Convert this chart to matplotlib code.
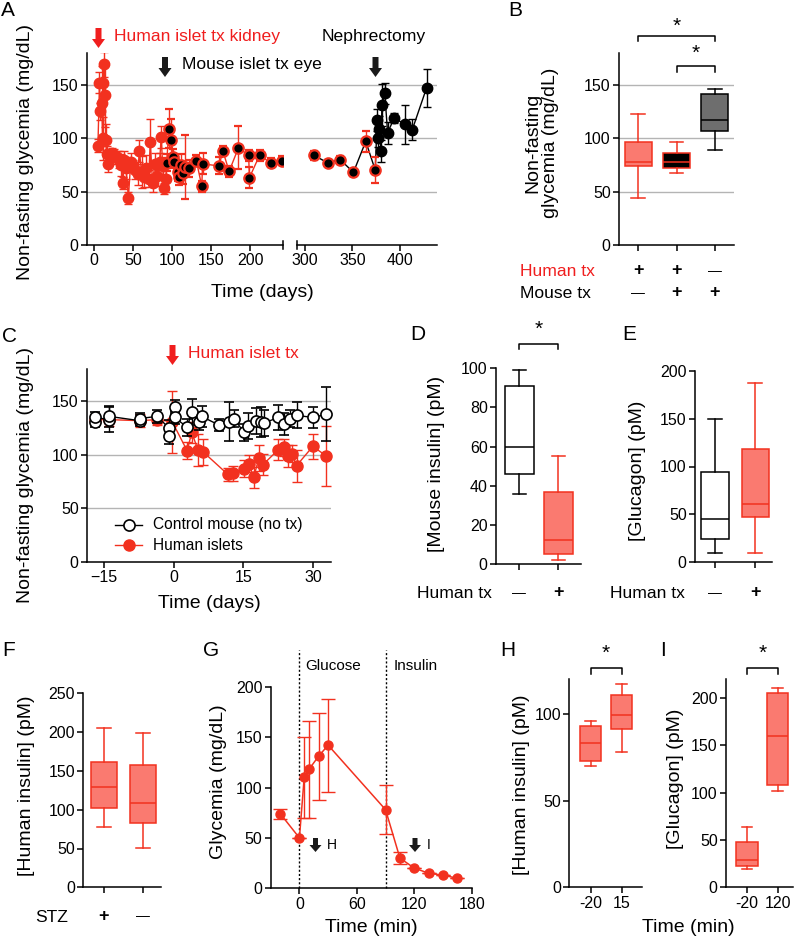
import matplotlib
matplotlib.use('Agg')
import matplotlib.pyplot as plt
from matplotlib.patches import Polygon
from matplotlib.lines import Line2D

plt.rcParams['font.family'] = ['Liberation Sans', 'DejaVu Sans']
plt.rcParams['axes.linewidth'] = 1.1

# ---------------- DATA ----------------
# Panel A: human islets only (kidney)
A_hum_days = [5, 7, 8, 10, 11, 12, 13, 14, 15, 16, 18, 20, 23, 26, 29, 32, 35, 37, 39, 41, 44, 47, 50, 53,
              56, 58, 61, 64, 67, 70, 72, 75, 78, 81, 84, 86, 88, 90, 92]
A_hum_vals = [93, 152, 125, 133, 100, 152, 169, 140, 98, 85, 76, 84, 86, 84, 82, 80, 75, 58, 80, 72, 44, 78, 74, 70,
              66, 88, 68, 64, 72, 62, 96, 58, 76, 65, 78, 101, 74, 53, 62]
A_hum_err = [6, 10, 8, 35, 20, 15, 12, 30, 15, 8, 8, 5, 5, 6, 6, 8, 10, 6, 8, 10, 6, 8, 6, 8,
             10, 10, 15, 10, 12, 8, 22, 8, 10, 10, 8, 10, 8, 5, 12]
# Panel A: human + mouse islets
A_both_days = [93, 96, 99, 101, 103, 107, 109, 112, 114, 116, 121, 131, 138, 139, 160, 165, 173, 185, 198, 199,
               212, 226, 241, 309, 324, 337, 351, 364, 374]
A_both_vals = [77, 109, 98, 82, 78, 68, 64, 75, 67, 73, 72, 79, 55, 76, 74, 88, 69, 91, 84, 63,
               84, 77, 79, 84, 77, 80, 68, 97, 70]
A_both_err = [8, 18, 20, 8, 6, 8, 8, 10, 10, 30, 8, 5, 5, 10, 8, 5, 5, 20, 5, 10,
              5, 4, 4, 4, 3, 3, 3, 10, 12]
# Panel A: mouse islets only (after nephrectomy)
A_mouse_days = [376, 377, 378, 380, 381, 384, 387, 394, 405, 413, 428]
A_mouse_vals = [117, 100, 109, 88, 131, 142, 105, 119, 113, 108, 147]
A_mouse_err = [10, 8, 12, 10, 20, 10, 10, 5, 18, 10, 18]

# Panel B box stats [whislo, q1, med, q3, whishi]
B_stats = [[44, 74, 78, 96, 123], [67, 72, 78, 86, 96], [89, 107, 117, 141, 146]]
B_human = ['+', '+', '—']
B_mouse = ['—', '+', '+']

# Panel C
C_ctrl_days = [-16.8, -16.8, -13.8, -13.8, -7.3, -7.3, -3.6, -0.9, -0.9, 0.2, 0.2, 2.9, 3.9, 5.5, 6.0, 9.7,
               12.0, 13.0, 15.1, 16.0, 17.6, 18.7, 19.5, 22.5, 23.6, 25.0, 26.4, 29.9, 32.8]
C_ctrl_vals = [131, 135, 133, 136, 132, 134, 136, 125, 118, 145, 135, 126, 140, 131, 136, 128,
               131, 134, 121, 127, 132, 131, 130, 135, 129, 134, 137, 135, 138]
C_ctrl_err = [5, 5, 12, 10, 5, 5, 6, 8, 8, 6, 6, 8, 12, 8, 10, 6,
              18, 8, 8, 12, 12, 14, 12, 12, 10, 8, 12, 10, 25]
C_hum_days = [-16.8, -13.8, -7.3, -3.6, -0.3, 2.9, 3.9, 5.2, 6.3, 11.6, 12.8, 15.1, 16.2, 17.2, 18.3, 19.2,
              22.5, 23.6, 24.6, 25.4, 26.4, 29.9, 32.8]
C_hum_vals = [133, 133, 132, 133, 131, 104, 121, 105, 103, 82, 83, 87, 92, 79, 97, 91,
              105, 107, 99, 101, 90, 108, 99]
C_hum_err = [4, 6, 6, 5, 29, 8, 10, 15, 12, 6, 7, 8, 8, 10, 12, 10,
             10, 8, 10, 8, 15, 12, 28]

# Panel D, E, F box stats
D_stats = [[36, 46, 60, 91, 99], [2, 5, 12.5, 37, 55]]
E_stats = [[9, 24, 45, 94, 150], [9, 47, 61, 118, 187]]
F_stats = [[78, 102, 129, 161, 205], [51, 83, 109, 158, 199]]
DE_labels = ['—', '+']
F_labels = ['+', '—']

# Panel G
G_time = [-20, 0, 5, 10, 20, 30, 90, 105, 120, 135, 150, 165]
G_vals = [74, 50, 110, 118, 131, 142, 78, 30, 20, 15, 13, 10]
G_err = [5, 0, 40, 48, 43, 46, 24, 6, 0, 0, 0, 0]

# Panels H, I
H_stats = [[70, 73, 83, 93, 96], [78, 91, 99, 111, 117]]
H_labels = ['-20', '15']
I_stats = [[19, 22, 29, 48, 64], [102, 108, 160, 205, 210]]
I_labels = ['-20', '120']

# ---------------- STYLE ----------------
RED = '#f2311f'
TRED = '#f01e1e'
BOXRED = '#fa7a70'
GRAY = '#b4b4b4'
TICK = 11.5
LAB = 14

W, H = 800, 940
fig = plt.figure(figsize=(8, 9.4), dpi=100)


def add_ax(l, t, r, b):
    return fig.add_axes([l / W, 1 - b / H, (r - l) / W, (b - t) / H])


def ftext(x, y, s, **kw):
    return fig.text(x / W, 1 - y / H, s, **kw)


def arrow(x, ytop, ybot, color, hw=13, sw=6, hl=9):
    pts = [(x - sw / 2, ytop), (x + sw / 2, ytop), (x + sw / 2, ybot - hl), (x + hw / 2, ybot - hl),
           (x, ybot), (x - hw / 2, ybot - hl), (x - sw / 2, ybot - hl)]
    pts_in = [(px / 100, (H - py) / 100) for px, py in pts]
    fig.add_artist(Polygon(pts_in, closed=True, transform=fig.dpi_scale_trans, facecolor=color,
                           edgecolor='none'))


def fline(xs, ys, **kw):
    fig.add_artist(Line2D([x / W for x in xs], [1 - y / H for y in ys], **kw))


def style(ax):
    for s in ('top', 'right'):
        ax.spines[s].set_visible(False)
    ax.tick_params(direction='out', length=4, width=1.1, labelsize=TICK, pad=2)


def grid(ax):
    for v in (50, 100, 150):
        ax.axhline(v, color=GRAY, lw=1, zorder=0)


def boxes(ax, stats, fcs, ecs, mcs, width=0.7):
    for i, st in enumerate(stats):
        d = dict(whislo=st[0], q1=st[1], med=st[2], q3=st[3], whishi=st[4], fliers=[])
        ax.bxp([d], positions=[i], widths=width, patch_artist=True, showfliers=False,
               boxprops=dict(facecolor=fcs[i], edgecolor=ecs[i], lw=1.1),
               whiskerprops=dict(color=ecs[i], lw=1.1),
               capprops=dict(color=ecs[i], lw=1.1),
               medianprops=dict(color=mcs[i], lw=1.1), capwidths=0.35)


def bracket(ax, x0, x1, y0, y1, ystar):
    ax.plot([x0, x0, x1, x1], [y0, y1, y1, y0], color='k', lw=1.1, clip_on=False)
    ax.text((x0 + x1) / 2, ystar, '*', ha='center', va='center', fontsize=15)


# ---------------- PANEL A ----------------
bg = add_ax(87, 52.7, 437, 245)
bg.set_ylim(0, 180)
bg.axis('off')
for v in (50, 100, 150):
    bg.axhline(v, color=GRAY, lw=1)

axA1 = add_ax(87, 52.7, 283, 245)
axA2 = add_ax(297, 52.7, 437, 245)
for ax in (axA1, axA2):
    ax.patch.set_alpha(0)
    style(ax)
    ax.set_ylim(0, 180)
axA1.set_xlim(-9, 242)
axA2.set_xlim(291.6, 439)
axA1.set_yticks([0, 50, 100, 150])
axA1.set_xticks([0, 50, 100, 150, 200])
axA2.set_xticks([300, 350, 400])
axA2.spines['left'].set_visible(False)
axA2.tick_params(axis='y', left=False, labelleft=False)

left_both = [i for i, d in enumerate(A_both_days) if d < 250]
right_both = [i for i, d in enumerate(A_both_days) if d >= 250]
lx = A_hum_days + [A_both_days[i] for i in left_both]
ly = A_hum_vals + [A_both_vals[i] for i in left_both]
axA1.plot(lx, ly, color=RED, lw=1, zorder=2)
axA1.errorbar(A_hum_days, A_hum_vals, yerr=A_hum_err, fmt='o', ms=7.5, mfc=RED, mec=RED, ecolor=RED,
              elinewidth=1, capsize=3, zorder=3)
axA1.errorbar([A_both_days[i] for i in left_both], [A_both_vals[i] for i in left_both],
              yerr=[A_both_err[i] for i in left_both], fmt='o', ms=7.5, mfc='k', mec=RED, mew=1.6,
              ecolor=RED, elinewidth=1, capsize=3, zorder=4)
rx = [A_both_days[i] for i in right_both] + A_mouse_days
ry = [A_both_vals[i] for i in right_both] + A_mouse_vals
axA2.plot(rx, ry, color='k', lw=1, zorder=2)
axA2.errorbar([A_both_days[i] for i in right_both], [A_both_vals[i] for i in right_both],
              yerr=[A_both_err[i] for i in right_both], fmt='o', ms=7.5, mfc='k', mec=RED, mew=1.6,
              ecolor=RED, elinewidth=1, capsize=3, zorder=4)
axA2.errorbar(A_mouse_days, A_mouse_vals, yerr=A_mouse_err, fmt='o', ms=7.5, mfc='k', mec='k',
              ecolor='k', elinewidth=1, capsize=3, zorder=4)
fline([283, 283], [241, 249], color='k', lw=1.1)
fline([297, 297], [241, 249], color='k', lw=1.1)

ftext(26, 152, 'Non-fasting glycemia (mg/dL)', rotation=90, ha='center', va='center', fontsize=LAB)
ftext(262, 293, 'Time (days)', ha='center', va='center', fontsize=LAB)
arrow(98.5, 28, 48, TRED)
ftext(114, 36, 'Human islet tx kidney', color=TRED, ha='left', va='center', fontsize=12.6)
arrow(165, 57, 77, '#1a1a1a')
ftext(182, 65, 'Mouse islet tx eye', ha='left', va='center', fontsize=12.6)
ftext(322, 37, 'Nephrectomy', ha='left', va='center', fontsize=12.6)
arrow(375.5, 57, 77, '#1a1a1a')

# ---------------- PANEL B ----------------
axB = add_ax(619, 52.7, 734, 245)
style(axB)
grid(axB)
axB.set_ylim(0, 180)
axB.set_xlim(-0.5, 2.5)
boxes(axB, B_stats, [BOXRED, 'k', '#6e6e6e'], [RED, RED, 'k'], [RED, RED, 'k'])
axB.set_xticks([0, 1, 2])
axB.set_xticklabels([])
axB.set_yticks([0, 50, 100, 150])
bracket(axB, 0, 2, 191, 196, 205)
bracket(axB, 1, 2, 162, 167.5, 179)
ftext(542, 143, 'Non-fasting\nglycemia (mg/dL)', rotation=90, ha='center', va='center', fontsize=LAB,
      linespacing=1.05)
ftext(520, 272, 'Human tx', color=TRED, ha='left', va='center', fontsize=12.6)
ftext(520, 294, 'Mouse tx', ha='left', va='center', fontsize=12.6)
for i in range(3):
    xpx = 619 + (i + 0.5) * 115 / 3
    ftext(xpx, 271, B_human[i], ha='center', va='center', fontsize=13 if B_human[i] == '+' else 10,
          fontweight='bold' if B_human[i] == '+' else 'normal')
    ftext(xpx, 293, B_mouse[i], ha='center', va='center', fontsize=13 if B_mouse[i] == '+' else 10,
          fontweight='bold' if B_mouse[i] == '+' else 'normal')

# ---------------- PANEL C ----------------
axC = add_ax(87, 369.3, 331, 562)
style(axC)
grid(axC)
axC.set_ylim(0, 180)
axC.set_xlim(-18.6, 33.8)
axC.set_xticks([-15, 0, 15, 30])
axC.set_yticks([0, 50, 100, 150])
axC.errorbar(C_hum_days, C_hum_vals, yerr=C_hum_err, fmt='-o', ms=8, color=RED, mfc=RED, mec=RED,
             lw=1, elinewidth=1, capsize=3.5, zorder=3, clip_on=False)
axC.errorbar(C_ctrl_days, C_ctrl_vals, yerr=C_ctrl_err, fmt='-o', ms=8, color='k', mfc='white', mec='k',
             mew=1.2, lw=1, elinewidth=1, capsize=3.5, zorder=4, clip_on=False)
ftext(26, 475, 'Non-fasting glycemia (mg/dL)', rotation=90, ha='center', va='center', fontsize=LAB)
ftext(209, 603, 'Time (days)', ha='center', va='center', fontsize=LAB)
arrow(172.5, 345, 365, TRED)
ftext(188, 353, 'Human islet tx', color=TRED, ha='left', va='center', fontsize=12.6)
fline([115, 142], [525, 525], color='k', lw=1)
fline([128.5], [525], marker='o', ms=8, mfc='white', mec='k', mew=1.2, lw=0)
fline([115, 142], [545, 545], color=RED, lw=1)
fline([128.5], [545], marker='o', ms=8, mfc=RED, mec=RED, lw=0)
ftext(153, 525, 'Control mouse (no tx)', ha='left', va='center', fontsize=11.2)
ftext(153, 545, 'Human islets', ha='left', va='center', fontsize=11.2)

# ---------------- PANEL D ----------------
axD = add_ax(496, 368.3, 580.7, 564)
style(axD)
axD.set_ylim(0, 100)
axD.set_xlim(-0.6, 1.57)
boxes(axD, D_stats, ['white', BOXRED], ['k', RED], ['k', RED], width=0.74)
axD.set_xticks([0, 1])
axD.set_xticklabels([])
axD.set_yticks([0, 20, 40, 60, 80, 100])
bracket(axD, 0, 1, 110, 112.5, 120)
ftext(436, 464, '[Mouse insulin] (pM)', rotation=90, ha='center', va='center', fontsize=LAB)
ftext(417, 594, 'Human tx', ha='left', va='center', fontsize=12.6)
for i, s in enumerate(DE_labels):
    ftext(496 + (i + 0.6) * 84.7 / 2.17, 593, s, ha='center', va='center',
          fontsize=13 if s == '+' else 10, fontweight='bold' if s == '+' else 'normal')

# ---------------- PANEL E ----------------
axE = add_ax(695, 371, 772, 562)
style(axE)
axE.set_ylim(0, 200)
axE.set_xlim(-0.5, 1.42)
boxes(axE, E_stats, ['white', BOXRED], ['k', RED], ['k', RED], width=0.68)
axE.set_xticks([0, 1])
axE.set_xticklabels([])
axE.set_yticks([0, 50, 100, 150, 200])
ftext(637, 471, '[Glucagon] (pM)', rotation=90, ha='center', va='center', fontsize=LAB)
ftext(610, 594, 'Human tx', ha='left', va='center', fontsize=12.6)
for i, s in enumerate(DE_labels):
    ftext(695 + (i + 0.5) * 77 / 1.92, 593, s, ha='center', va='center',
          fontsize=13 if s == '+' else 10, fontweight='bold' if s == '+' else 'normal')

# ---------------- PANEL F ----------------
axF = add_ax(83.3, 693.3, 161, 887.3)
style(axF)
axF.set_ylim(0, 250)
axF.set_xlim(-0.53, 1.47)
boxes(axF, F_stats, [BOXRED, BOXRED], [RED, RED], [RED, RED], width=0.68)
axF.set_xticks([0, 1])
axF.set_xticklabels([])
axF.set_yticks([0, 50, 100, 150, 200, 250])
ftext(27, 786, '[Human insulin] (pM)', rotation=90, ha='center', va='center', fontsize=LAB)
ftext(35, 917, 'STZ', ha='left', va='center', fontsize=12.6)
for i, s in enumerate(F_labels):
    ftext(83.3 + (i + 0.53) * 77.7 / 2.0, 916, s, ha='center', va='center',
          fontsize=13 if s == '+' else 10, fontweight='bold' if s == '+' else 'normal')

# ---------------- PANEL G ----------------
axG = add_ax(270.7, 686.7, 471.7, 888.3)
style(axG)
axG.set_ylim(0, 200)
axG.set_xlim(-30, 180)
axG.set_xticks([0, 60, 120, 180])
axG.set_yticks([0, 50, 100, 150, 200])
for xv in (0, 90):
    axG.axvline(xv, ymin=0, ymax=1.18, color='k', ls=(0, (1.5, 1.5)), lw=1, clip_on=False)
axG.errorbar(G_time, G_vals, yerr=G_err, fmt='-o', ms=6.5, color=RED, mfc=RED, mec=RED, lw=1.1,
             elinewidth=1, capsize=5, zorder=3, clip_on=False)
ftext(305, 666, 'Glucose', ha='left', va='center', fontsize=11)
ftext(394, 666, 'Insulin', ha='left', va='center', fontsize=11)
arrow(315.5, 838, 852, '#1a1a1a', hw=12, sw=5, hl=7)
ftext(327, 845, 'H', ha='left', va='center', fontsize=10)
arrow(415, 838, 852, '#1a1a1a', hw=12, sw=5, hl=7)
ftext(427, 845, 'I', ha='left', va='center', fontsize=10)
ftext(218, 782, 'Glycemia (mg/dL)', rotation=90, ha='center', va='center', fontsize=LAB)
ftext(371, 928, 'Time (min)', ha='center', va='center', fontsize=LAB)

# ---------------- PANEL H ----------------
axH = add_ax(569.3, 679, 641.7, 887.3)
style(axH)
axH.set_ylim(0, 120)
axH.set_xlim(-0.69, 1.65)
boxes(axH, H_stats, [BOXRED, BOXRED], [RED, RED], [RED, RED], width=0.68)
axH.set_xticks([0, 1])
axH.set_xticklabels(H_labels)
axH.set_yticks([0, 50, 100])
bracket(axH, 0, 1, 123, 126.2, 135)
ftext(521, 785, '[Human insulin] (pM)', rotation=90, ha='center', va='center', fontsize=LAB)

# ---------------- PANEL I ----------------
axI = add_ax(726, 679, 793, 887.3)
style(axI)
axI.set_ylim(0, 220)
axI.set_xlim(-0.69, 1.5)
boxes(axI, I_stats, [BOXRED, BOXRED], [RED, RED], [RED, RED], width=0.7)
axI.set_xticks([0, 1])
axI.set_xticklabels(I_labels)
axI.set_yticks([0, 50, 100, 150, 200])
bracket(axI, 0, 1, 225.7, 231.6, 247)
ftext(676, 779, '[Glucagon] (pM)', rotation=90, ha='center', va='center', fontsize=LAB)
ftext(688, 928, 'Time (min)', ha='center', va='center', fontsize=LAB)

# ---------------- PANEL LETTERS ----------------
for lab, x, y in [('A', 1, 10), ('B', 508, 11), ('C', 2, 336), ('D', 410, 335), ('E', 622, 335),
                  ('F', 2, 650), ('G', 203, 650), ('H', 500, 650), ('I', 660, 650)]:
    ftext(x, y, lab, ha='left', va='center', fontsize=15)

fig.savefig('out.png', dpi=100)
